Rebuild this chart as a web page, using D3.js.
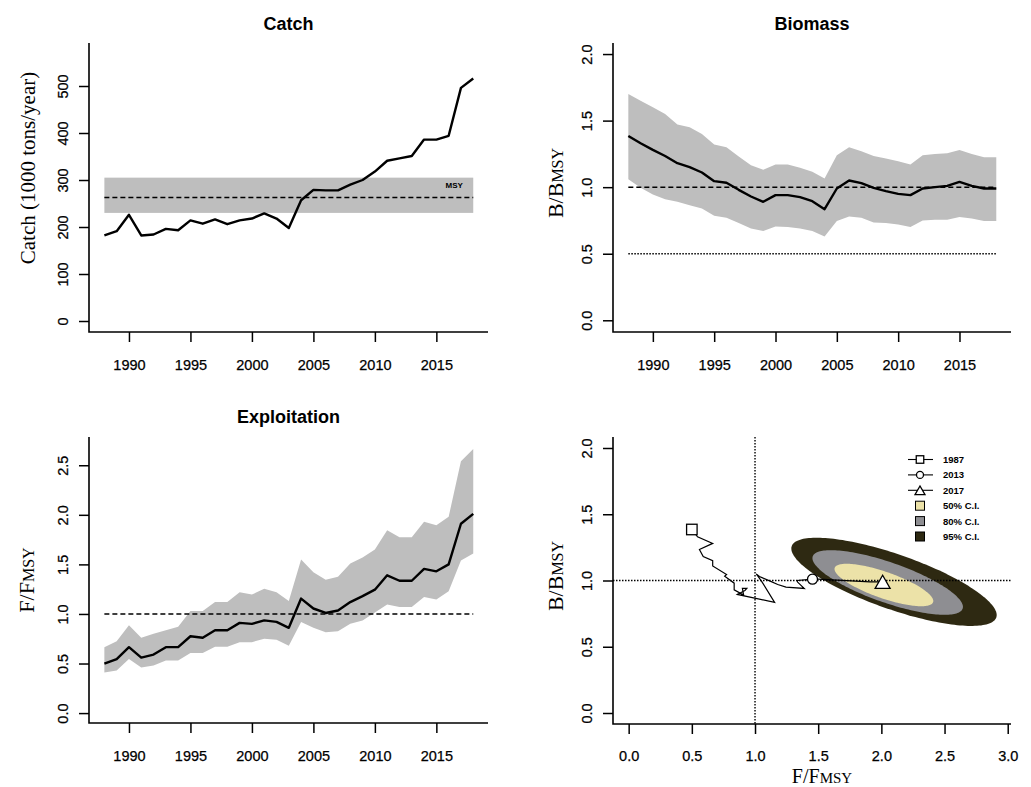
<!DOCTYPE html>
<html><head><meta charset="utf-8">
<script src="https://cdn.jsdelivr.net/npm/d3@7"></script>
<style>body{margin:0;background:#fff} svg{display:block}</style>
</head><body>
<svg id="c" width="1031" height="787"></svg>
<script>
// ---------------- DATA ----------------
const years = [1988,1989,1990,1991,1992,1993,1994,1995,1996,1997,1998,1999,2000,2001,2002,2003,2004,2005,2006,2007,2008,2009,2010,2011,2012,2013,2014,2015,2016,2017,2018];
const catchVals = [182,191,226,182,184,196,193,214,207,216,206,214,218,229,218,198,257,279,278,278,290,300,318,341,346,351,386,386,394,496,516];
const msyVal = 263, msyLow = 230, msyHigh = 305;

const bRatio = [1.385,1.33,1.28,1.234,1.18,1.15,1.11,1.045,1.033,0.98,0.93,0.89,0.94,0.94,0.925,0.895,0.835,0.99,1.05,1.03,0.995,0.97,0.95,0.94,0.99,1.00,1.01,1.04,1.01,0.99,0.99];
const bHigh  = [1.70,1.65,1.60,1.55,1.47,1.45,1.40,1.32,1.30,1.23,1.165,1.13,1.17,1.17,1.145,1.115,1.065,1.24,1.30,1.27,1.235,1.215,1.195,1.17,1.24,1.25,1.255,1.28,1.25,1.225,1.225];
const bLow   = [1.06,0.995,0.945,0.91,0.89,0.865,0.84,0.785,0.77,0.73,0.69,0.67,0.705,0.70,0.69,0.67,0.63,0.745,0.78,0.77,0.735,0.73,0.72,0.70,0.75,0.755,0.755,0.775,0.765,0.745,0.745];

const fRatio = [0.50,0.545,0.665,0.56,0.59,0.665,0.665,0.775,0.76,0.835,0.835,0.91,0.90,0.935,0.92,0.86,1.155,1.055,1.01,1.035,1.12,1.18,1.245,1.39,1.335,1.335,1.455,1.43,1.50,1.91,2.01];
const fHigh  = [0.665,0.725,0.885,0.76,0.80,0.835,0.87,1.03,1.03,1.12,1.12,1.22,1.195,1.255,1.22,1.13,1.55,1.42,1.345,1.375,1.51,1.57,1.65,1.845,1.775,1.775,1.93,1.895,1.98,2.54,2.665];
const fLow   = [0.41,0.43,0.545,0.46,0.48,0.53,0.53,0.605,0.605,0.67,0.67,0.715,0.715,0.75,0.74,0.68,0.92,0.86,0.815,0.825,0.90,0.935,1.015,1.095,1.07,1.07,1.17,1.145,1.23,1.54,1.61];

const yearTicks = [1990,1995,2000,2005,2010,2015];
const catchTicks = [0,100,200,300,400,500];
const bTicks = [0,0.5,1,1.5,2];
const fTicks = [0,0.5,1,1.5,2,2.5];
const kobeXTicks = [0,0.5,1,1.5,2,2.5,3];
const kobeYTicks = [0,0.5,1,1.5,2];

const markerLabels = ["1987","2013","2017"];
const markerIndex = [0,26,30];
const markerShapes = ["square","circle","triangle"];

const ciLevels  = [0.95,0.80,0.50];
const ciCenterF = [2.10,2.05,2.02];
const ciCenterB = [0.99,0.985,0.966];
const ciSdF = 0.332, ciSdB = 0.136, ciRho = -0.754;
const ciColors  = ["#2e2912","#8e8e92","#ece2a8"];
const ciLegendLabels = ["50% C.I.","80% C.I.","95% C.I."];
const ciLegendColors = ["#ece2a8","#8e8e92","#2e2912"];

// ---------------- LAYOUT ----------------
const svg = d3.select("#c");
const SANS = "'Liberation Sans', Arial, sans-serif";
const SERIF = "'Liberation Serif', 'Times New Roman', serif";
const P = {
  catch: {x0:89, x1:488, y0:43, y1:332},
  bio:   {x0:613, x1:1011, y0:43, y1:332},
  expl:  {x0:89, x1:488, y0:437, y1:723},
  kobe:  {x0:613, x1:1011, y0:437, y1:724}
};
const tickFont = "14.5px";

function makeYearScale(p){ return d3.scaleLinear().domain([1986.75,2019.2]).range([p.x0,p.x1]); }

function drawBox(p){
  svg.append("path").attr("d",`M${p.x0},${p.y0}V${p.y1}H${p.x1}`)
    .attr("fill","none").attr("stroke","#000").attr("stroke-width",1.6);
}
function drawXAxis(p, x, ticks, fmt, lab){
  const g = svg.append("g").attr("transform",`translate(0,${p.y1})`)
    .call(d3.axisBottom(x).tickValues(ticks).tickSize(10).tickFormat(fmt));
  g.select(".domain").remove();
  g.selectAll(".tick line").attr("stroke","#000").attr("stroke-width",1.5);
  g.selectAll(".tick text").attr("y",lab).attr("dy",0).attr("fill","#000")
    .attr("stroke","#000").attr("stroke-width",0.25)
    .style("font-family",SANS).style("font-size",tickFont);
}
function drawYAxis(p, y, ticks, fmt){
  const g = svg.append("g").attr("transform",`translate(${p.x0},0)`)
    .call(d3.axisLeft(y).tickValues(ticks).tickSize(10).tickFormat(fmt));
  g.select(".domain").remove();
  g.selectAll(".tick line").attr("stroke","#000").attr("stroke-width",1.5);
  g.selectAll(".tick text").attr("x",0).attr("y",0).attr("dy",0)
    .attr("transform","translate(-21,0) rotate(-90)").attr("text-anchor","middle").attr("fill","#000")
    .attr("stroke","#000").attr("stroke-width",0.25)
    .style("font-family",SANS).style("font-size",tickFont);
}
function title(txt, cx, by){
  svg.append("text").attr("x",cx).attr("y",by).attr("text-anchor","middle")
    .style("font-family",SANS).style("font-weight","bold").style("font-size","18px").text(txt);
}
function ratioLabel(main, sub, x, y, rotate, big, small){
  const t = svg.append("text").attr("text-anchor","middle")
    .attr("transform", rotate ? `translate(${x},${y}) rotate(-90)` : `translate(${x},${y})`)
    .style("font-family",SERIF).style("font-size",big+"px");
  t.append("tspan").text(main);
  t.append("tspan").style("font-size",small+"px").text(sub);
}
const f1 = d3.format(".1f");

// ---------------- CATCH ----------------
{
  const p = P.catch, x = makeYearScale(p);
  const y = d3.scaleLinear().domain([-23.4,591.5]).range([p.y1,p.y0]);
  svg.append("rect").attr("x",x(years[0])).attr("width",x(years[years.length-1])-x(years[0]))
    .attr("y",y(msyHigh)).attr("height",y(msyLow)-y(msyHigh)).attr("fill","#bebebe");
  svg.append("line").attr("x1",x(years[0])).attr("x2",x(years[years.length-1]))
    .attr("y1",y(msyVal)).attr("y2",y(msyVal)).attr("stroke","#000").attr("stroke-width",1.5).attr("stroke-dasharray","5,3");
  svg.append("text").attr("x",x(2016.45)).attr("y",y(282)).attr("text-anchor","middle")
    .style("font-family",SANS).style("font-weight","bold").style("font-size","8px").text("MSY");
  svg.append("path").datum(catchVals).attr("fill","none").attr("stroke","#000").attr("stroke-width",2.4)
    .attr("stroke-linejoin","round")
    .attr("d",d3.line().x((d,i)=>x(years[i])).y(d=>y(d)));
  drawBox(p); drawXAxis(p,x,yearTicks,d3.format("d"),38); drawYAxis(p,y,catchTicks,d3.format("d"));
  title("Catch",(p.x0+p.x1)/2,30);
  svg.append("text").attr("text-anchor","middle").attr("transform","translate(35,168) rotate(-90)")
    .style("font-family",SERIF).style("font-size","21px").text("Catch (1000 tons/year)");
}

// ---------------- BIOMASS ----------------
{
  const p = P.bio, x = makeYearScale(p);
  const y = d3.scaleLinear().domain([-0.088,2.083]).range([p.y1,p.y0]);
  svg.append("path").datum(years).attr("fill","#bebebe")
    .attr("d",d3.area().x(d=>x(d)).y0((d,i)=>y(bLow[i])).y1((d,i)=>y(bHigh[i])));
  svg.append("line").attr("x1",x(years[0])).attr("x2",x(years[years.length-1]))
    .attr("y1",y(1)).attr("y2",y(1)).attr("stroke","#000").attr("stroke-width",1.5).attr("stroke-dasharray","5,3");
  svg.append("line").attr("x1",x(years[0])).attr("x2",x(years[years.length-1]))
    .attr("y1",y(0.5)).attr("y2",y(0.5)).attr("stroke","#000").attr("stroke-width",1.5).attr("stroke-dasharray","1.5,1.5");
  svg.append("path").datum(bRatio).attr("fill","none").attr("stroke","#000").attr("stroke-width",2.4)
    .attr("stroke-linejoin","round")
    .attr("d",d3.line().x((d,i)=>x(years[i])).y(d=>y(d)));
  drawBox(p); drawXAxis(p,x,yearTicks,d3.format("d"),38); drawYAxis(p,y,bTicks,f1);
  title("Biomass",(p.x0+p.x1)/2,30);
  ratioLabel("B/B","MSY",563,183,true,22,16);
}

// ---------------- EXPLOITATION ----------------
{
  const p = P.expl, x = makeYearScale(p);
  const y = d3.scaleLinear().domain([-0.1,2.785]).range([p.y1,p.y0]);
  svg.append("path").datum(years).attr("fill","#bebebe")
    .attr("d",d3.area().x(d=>x(d)).y0((d,i)=>y(fLow[i])).y1((d,i)=>y(fHigh[i])));
  svg.append("line").attr("x1",x(years[0])).attr("x2",x(years[years.length-1]))
    .attr("y1",y(1)).attr("y2",y(1)).attr("stroke","#000").attr("stroke-width",1.5).attr("stroke-dasharray","5,3");
  svg.append("path").datum(fRatio).attr("fill","none").attr("stroke","#000").attr("stroke-width",2.4)
    .attr("stroke-linejoin","round")
    .attr("d",d3.line().x((d,i)=>x(years[i])).y(d=>y(d)));
  drawBox(p); drawXAxis(p,x,yearTicks,d3.format("d"),38); drawYAxis(p,y,fTicks,f1);
  title("Exploitation",(p.x0+p.x1)/2,422.5);
  ratioLabel("F/F","MSY",33.5,580,true,22,16);
}

// ---------------- KOBE ----------------
{
  const p = P.kobe;
  const x = d3.scaleLinear().domain([-0.124,3.026]).range([p.x0,p.x1]);
  const y = d3.scaleLinear().domain([-0.083,2.083]).range([p.y1,p.y0]);
  // confidence contours
  const angles = d3.range(0, 2*Math.PI + 0.001, Math.PI/90);
  ciLevels.forEach((lv,k)=>{
    const r = Math.sqrt(-2*Math.log(1-lv));
    const pts = angles.map(t=>{
      const z1 = Math.cos(t), z2 = Math.sin(t);
      const fx = ciCenterF[k] + r*ciSdF*z1;
      const bx = ciCenterB[k] + r*(ciRho*ciSdB*z1 + ciSdB*Math.sqrt(1-ciRho*ciRho)*z2);
      return [x(fx), y(bx)];
    });
    svg.append("path").attr("d",d3.line()(pts)+"Z").attr("fill",ciColors[k]).attr("stroke","none");
  });
  // reference lines
  svg.append("line").attr("x1",x(1)).attr("x2",x(1)).attr("y1",p.y0).attr("y2",p.y1)
    .attr("stroke","#000").attr("stroke-width",1.4).attr("stroke-dasharray","1.5,1.5");
  svg.append("line").attr("x1",p.x0).attr("x2",p.x1).attr("y1",y(1)).attr("y2",y(1))
    .attr("stroke","#000").attr("stroke-width",1.4).attr("stroke-dasharray","1.5,1.5");
  // trajectory
  svg.append("path").datum(fRatio).attr("fill","none").attr("stroke","#000").attr("stroke-width",1.2)
    .attr("d",d3.line().x(d=>x(d)).y((d,i)=>y(bRatio[i])));
  function marker(shape, cx, cy, s){
    if(shape==="square") svg.append("rect").attr("x",cx-s/2).attr("y",cy-s/2).attr("width",s).attr("height",s)
      .attr("fill","#fff").attr("stroke","#000").attr("stroke-width",1.3);
    else if(shape==="circle") svg.append("circle").attr("cx",cx).attr("cy",cy).attr("r",s/2)
      .attr("fill","#fff").attr("stroke","#000").attr("stroke-width",1.3);
    else { const h = s*0.87;
      svg.append("path").attr("d",`M${cx-s/2},${cy+h/2}L${cx+s/2},${cy+h/2}L${cx},${cy-h/2}Z`)
      .attr("fill","#fff").attr("stroke","#000").attr("stroke-width",1.3); }
  }
  const msz = [10.5,10,15];
  markerIndex.forEach((idx,k)=>marker(markerShapes[k], x(fRatio[idx]), y(bRatio[idx]), msz[k]));
  drawBox(p); drawXAxis(p,x,kobeXTicks,f1,37); drawYAxis(p,y,kobeYTicks,f1);
  ratioLabel("B/B","MSY",563,576,true,22,16);
  ratioLabel("F/F","MSY",822,782.5,false,20,15);
  // legend
  const ly0 = 459.5, lstep = 15.4, lsx = 920, ltx = 943;
  const lsz = [7.5,7,10];
  markerLabels.forEach((lab,k)=>{
    const yy = ly0 + k*lstep;
    svg.append("line").attr("x1",lsx-12).attr("x2",lsx+13).attr("y1",yy).attr("y2",yy).attr("stroke","#000").attr("stroke-width",1.1);
    marker(markerShapes[k], lsx, yy, lsz[k]);
    svg.append("text").attr("x",ltx).attr("y",yy+3.5).style("font-family",SANS).style("font-weight","bold")
      .style("font-size","9.5px").text(lab);
  });
  ciLegendLabels.forEach((lab,k)=>{
    const yy = ly0 + (k+3)*lstep;
    svg.append("rect").attr("x",lsx-4.5).attr("y",yy-4.5).attr("width",9).attr("height",9)
      .attr("fill",ciLegendColors[k]).attr("stroke","#000").attr("stroke-width",1);
    svg.append("text").attr("x",ltx).attr("y",yy+3.5).style("font-family",SANS).style("font-weight","bold")
      .style("font-size","9.5px").text(lab);
  });
}
</script>
</body></html>
